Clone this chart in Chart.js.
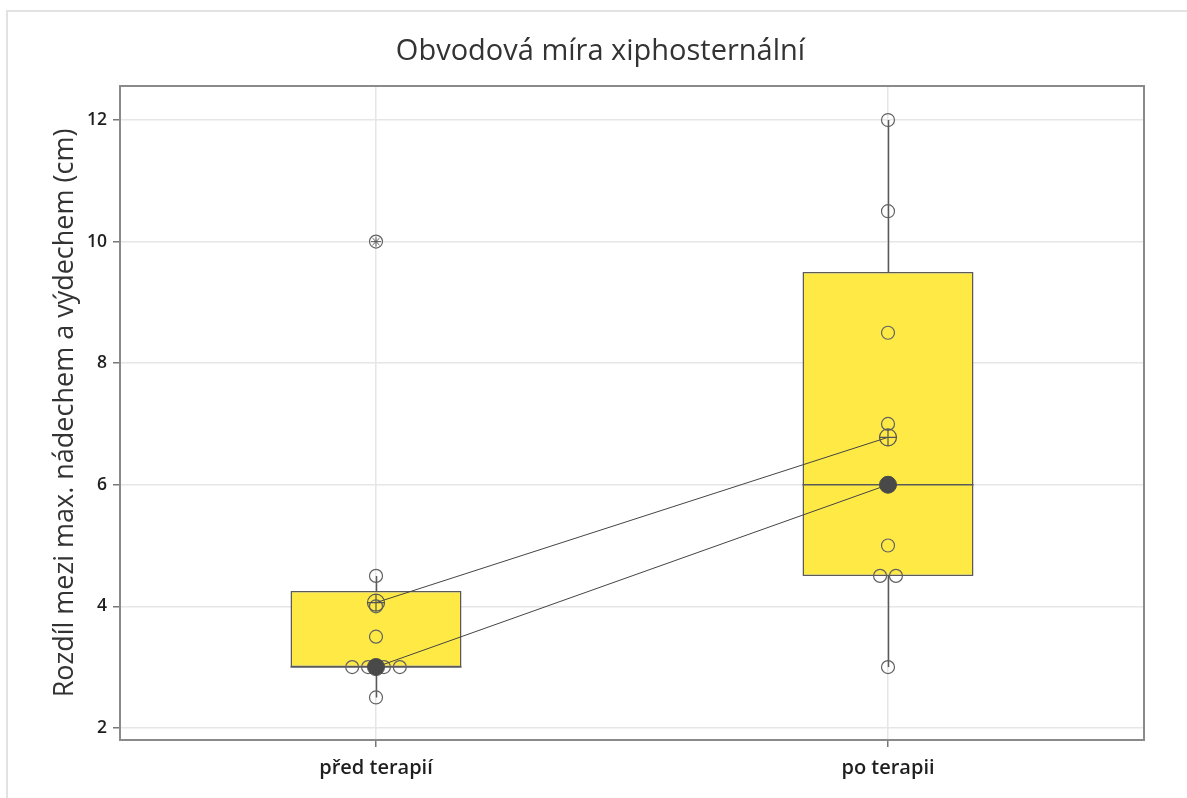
<!DOCTYPE html>
<html>
<head>
<meta charset="utf-8">
<script src="https://cdn.jsdelivr.net/npm/chart.js@4"></script>
<style>
  html, body { margin: 0; padding: 0; background: #ffffff; }
  #wrap { width: 1187px; height: 798px; position: relative; }
</style>
</head>
<body>
<div id="wrap"><canvas id="c"></canvas></div>
<script>
// Categories and individual measurements (cm)
const categories = ['před terapií', 'po terapii'];
const valuesBefore = [2.5, 3, 3, 3, 3, 3.5, 4, 4.5, 10];
const valuesAfter = [3, 4.5, 4.5, 5, 6, 7, 8.5, 10.5, 12];

// Box statistics per category
const q1 = [3, 4.5];
const medians = [3, 6];
const q3 = [4.25, 9.5];
const whiskerLow = [2.5, 3];
const whiskerHigh = [4.5, 12];
const means = [4.06, 6.78];

// Value-axis ticks
const yTicks = [2, 4, 6, 8, 10, 12];

const groups = [valuesBefore, valuesAfter];
const TIE_STEP = 0.031;        // horizontal spacing of tied values (category units)
const FONT = "'Open Sans', 'Noto Sans', sans-serif";
const INK = '#5a5a5a';

// Individual points: tied values are spread side by side around the category centre
const indivPoints = [];
const outlierPoints = [];
groups.forEach((vals, gi) => {
  const counts = {};
  vals.forEach(v => { counts[v] = (counts[v] || 0) + 1; });
  const seen = {};
  vals.forEach(v => {
    const k = counts[v];
    const j = seen[v] = (seen[v] === undefined ? 0 : seen[v] + 1);
    const x = gi + (j - (k - 1) / 2) * TIE_STEP;
    indivPoints.push({ x: x, y: v });
    if (v > whiskerHigh[gi] || v < whiskerLow[gi]) outlierPoints.push({ x: x, y: v });
  });
});

const meanPoints = means.map((m, i) => ({ x: i, y: m }));
const medianPoints = medians.map((m, i) => ({ x: i, y: m }));

// Page border lines and plot frame
const framePlugin = {
  id: 'frames',
  beforeDraw(chart) {
    const ctx = chart.ctx;
    ctx.save();
    ctx.fillStyle = '#ffffff';
    ctx.fillRect(0, 0, chart.width, chart.height);
    ctx.strokeStyle = '#e2e2e2';
    ctx.lineWidth = 2;
    ctx.beginPath();
    ctx.moveTo(6, 11); ctx.lineTo(chart.width, 11);
    ctx.moveTo(7, 10); ctx.lineTo(7, chart.height);
    ctx.stroke();
    ctx.restore();
  },
  beforeDatasetsDraw(chart) {
    const a = chart.chartArea;
    const ctx = chart.ctx;
    ctx.save();
    ctx.strokeStyle = '#8a8a8a';
    ctx.lineWidth = 2;
    ctx.strokeRect(a.left, a.top, a.right - a.left, a.bottom - a.top);
    ctx.restore();
  }
};

// Whiskers and median line, drawn right after the boxes
const boxPlugin = {
  id: 'boxParts',
  afterDatasetDraw(chart, args) {
    if (args.meta.type !== 'bar') return;
    const ctx = chart.ctx;
    const ys = chart.scales.y;
    ctx.save();
    ctx.strokeStyle = INK;
    ctx.lineWidth = 1.5;
    args.meta.data.forEach((el, i) => {
      const x = Math.round(el.x) + 0.5;
      const half = el.width / 2;
      ctx.beginPath();
      ctx.moveTo(x, ys.getPixelForValue(q3[i]));
      ctx.lineTo(x, ys.getPixelForValue(whiskerHigh[i]));
      ctx.moveTo(x, ys.getPixelForValue(q1[i]));
      ctx.lineTo(x, ys.getPixelForValue(whiskerLow[i]));
      ctx.stroke();
      const my = ys.getPixelForValue(medians[i]);
      ctx.beginPath();
      ctx.moveTo(el.x - half, my);
      ctx.lineTo(el.x + half, my);
      ctx.stroke();
    });
    ctx.restore();
  }
};

new Chart(document.getElementById('c'), {
  type: 'bar',
  data: {
    labels: categories,
    datasets: [
      {
        type: 'bar',
        data: q1.map((a, i) => [a, q3[i]]),
        backgroundColor: '#FFE945',
        borderColor: INK,
        borderWidth: 1.5,
        borderSkipped: false,
        grouped: false,
        barPercentage: 1,
        categoryPercentage: 0.334,
        xAxisID: 'x',
        order: 10
      },
      {
        type: 'scatter',
        data: indivPoints,
        xAxisID: 'xj',
        pointStyle: 'circle',
        pointRadius: 6.5,
        pointBorderWidth: 1.2,
        pointBorderColor: '#626262',
        pointBackgroundColor: 'rgba(0,0,0,0)',
        order: 5
      },
      {
        type: 'scatter',
        data: outlierPoints,
        xAxisID: 'xj',
        pointStyle: 'star',
        pointRadius: 5,
        pointBorderWidth: 1,
        pointBorderColor: '#5a5a5a',
        order: 4
      },
      {
        type: 'line',
        data: meanPoints,
        xAxisID: 'xj',
        borderColor: '#444444',
        borderWidth: 1,
        pointRadius: 0,
        order: 3
      },
      {
        type: 'line',
        data: medianPoints,
        xAxisID: 'xj',
        borderColor: '#444444',
        borderWidth: 1,
        pointRadius: 0,
        order: 3
      },
      {
        type: 'scatter',
        data: meanPoints,
        xAxisID: 'xj',
        pointStyle: 'circle',
        pointRadius: 8.5,
        pointBorderWidth: 1.2,
        pointBorderColor: '#555555',
        pointBackgroundColor: 'rgba(0,0,0,0)',
        order: 2
      },
      {
        type: 'scatter',
        data: meanPoints,
        xAxisID: 'xj',
        pointStyle: 'cross',
        pointRadius: 8.5,
        pointBorderWidth: 1.2,
        pointBorderColor: '#555555',
        order: 2
      },
      {
        type: 'scatter',
        data: medianPoints,
        xAxisID: 'xj',
        pointStyle: 'circle',
        pointRadius: 8.5,
        pointBorderWidth: 1,
        pointBorderColor: '#494949',
        pointBackgroundColor: '#494949',
        order: 1
      }
    ]
  },
  options: {
    responsive: true,
    maintainAspectRatio: false,
    animation: false,
    events: [],
    layout: { padding: { left: 14, right: 0, top: 0, bottom: 0 } },
    plugins: {
      legend: { display: false },
      tooltip: { enabled: false },
      title: {
        display: true,
        text: 'Obvodová míra xiphosternální',
        color: '#333333',
        font: { family: FONT, size: 29, weight: 'normal' },
        padding: { top: 34.6, bottom: 16.6 }
      }
    },
    scales: {
      x: {
        type: 'category',
        offset: true,
        border: { display: false },
        grid: { offset: false, color: '#e6e6e6', lineWidth: 1.5, tickColor: '#777777', tickLength: 7 },
        ticks: { color: '#1e1e1e', padding: 9, font: { family: FONT, size: 20, weight: '600' } },
        afterFit(scale) { scale.height = 58; }
      },
      xj: {
        type: 'linear',
        display: false,
        offset: false,
        min: -0.5,
        max: 1.5
      },
      y: {
        type: 'linear',
        position: 'left',
        min: 1.8,
        max: 12.56,
        border: { display: false },
        afterBuildTicks(scale) { scale.ticks = yTicks.map(v => ({ value: v })); },
        grid: { color: '#e6e6e6', lineWidth: 1.5, tickColor: '#777777', tickLength: 7 },
        ticks: { color: '#1e1e1e', padding: 6, font: { family: FONT, size: 17.5, weight: '600' } },
        title: {
          display: true,
          text: 'Rozdíl mezi max. nádechem a výdechem (cm)',
          color: '#333333',
          font: { family: FONT, size: 27, weight: 'normal' },
          padding: { top: 34.8, bottom: 0 }
        },
        afterFit(scale) { scale.width = 106; }
      },
      // empty right-hand margin beside the plot frame
      yr: {
        type: 'linear',
        position: 'right',
        display: true,
        border: { display: false },
        grid: { display: false, drawTicks: false },
        ticks: { display: false },
        afterFit(scale) { scale.width = 43; }
      }
    }
  },
  plugins: [framePlugin, boxPlugin]
});
</script>
</body>
</html>
